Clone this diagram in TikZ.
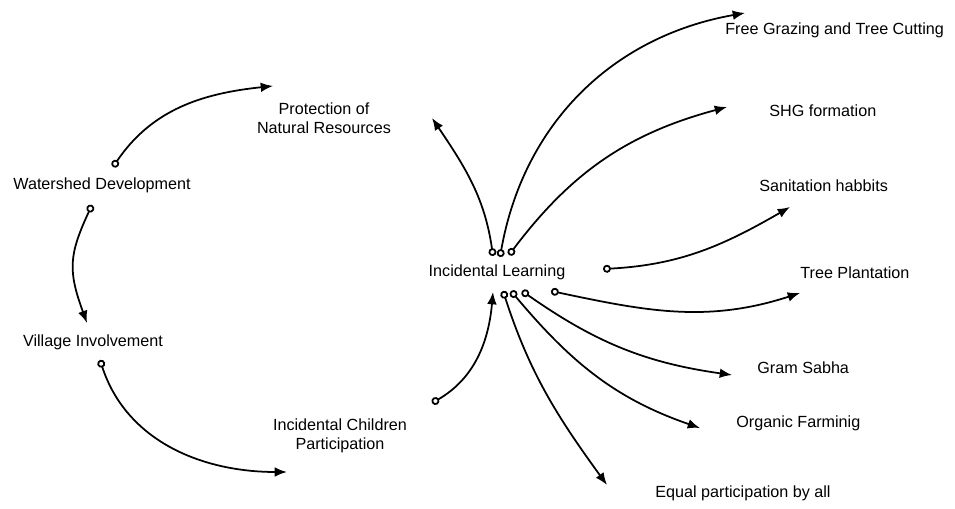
\documentclass[tikz,border=0pt]{standalone}
\usepackage{fontspec}
\setmainfont{Liberation Sans}
\usetikzlibrary{arrows.meta,calc}

\begin{document}
\begin{tikzpicture}[x=0.02cm,y=0.02cm,
  lbl/.style={inner sep=0pt, align=center, font=\fontsize{9.2}{11}\selectfont},
  link/.style={line width=1pt, {Circle[open,length=4.5pt,width=4.5pt]}-{Latex[length=7pt,width=5.5pt]}}]
\useasboundingbox (0,0) rectangle (955,509);

% left loop
\node[lbl] (wd) at (102,324) {Watershed Development};
\node[lbl] (pnr) at (324,391) {Protection of\\Natural Resources};
\node[lbl] (vi) at (93,167) {Village Involvement};
\node[lbl] (icp) at (340,73) {Incidental Children\\Participation};
\node[lbl] (il) at (497,237) {Incidental Learning};

% right side
\node[lbl,anchor=west] (fg) at (725,479) {Free Grazing and Tree Cutting};
\node[lbl,anchor=west] (shg) at (769,398) {SHG formation};
\node[lbl,anchor=west] (san) at (759,323) {Sanitation habbits};
\node[lbl,anchor=west] (tp) at (800,236) {Tree Plantation};
\node[lbl,anchor=west] (gs) at (757,141) {Gram Sabha};
\node[lbl,anchor=west] (of) at (736,86) {Organic Farminig};
\node[lbl,anchor=west] (ep) at (655,16) {Equal participation by all};

\draw[link] ($(wd)+(11,18)$) to[out=56,in=186] ($(pnr)+(-51,32)$);
\draw[link] ($(wd)+(-10,-20)$) to[out=245,in=110,looseness=1.2] ($(vi)+(-6,19)$);
\draw[link] ($(vi)+(7,-18)$) to[out=-72,in=180] ($(icp)+(-53,-36)$);
\draw[link] ($(icp)+(92,33)$) to[out=30,in=265] ($(il)+(-4,-20)$);

\draw[link] ($(il)+(-4,16)$) to[out=98,in=-56] ($(pnr)+(108,0)$);
\draw[link] ($(il)+(3,15)$) to[out=80,in=190] ($(fg.west)+(20,17)$);
\draw[link] ($(il)+(12,17)$) to[out=53,in=195] ($(shg.west)+(-42,4)$);
\draw[link] ($(il)+(106,3)$) to[out=3,in=210] ($(san.west)+(31,-21)$);
\draw[link] ($(il)+(54,-19)$) to[out=-12,in=198] ($(tp.west)+(0,-20)$);
\draw[link] ($(il)+(25,-19)$) to[out=-35,in=172] ($(gs.west)+(-25,-7)$);
\draw[link] ($(il)+(14,-19)$) to[out=-50,in=161] ($(of.west)+(-36,-5)$);
\draw[link] ($(il)+(6,-19)$) to[out=-72,in=126] ($(ep.west)+(-48,8)$);
\end{tikzpicture}
\end{document}
